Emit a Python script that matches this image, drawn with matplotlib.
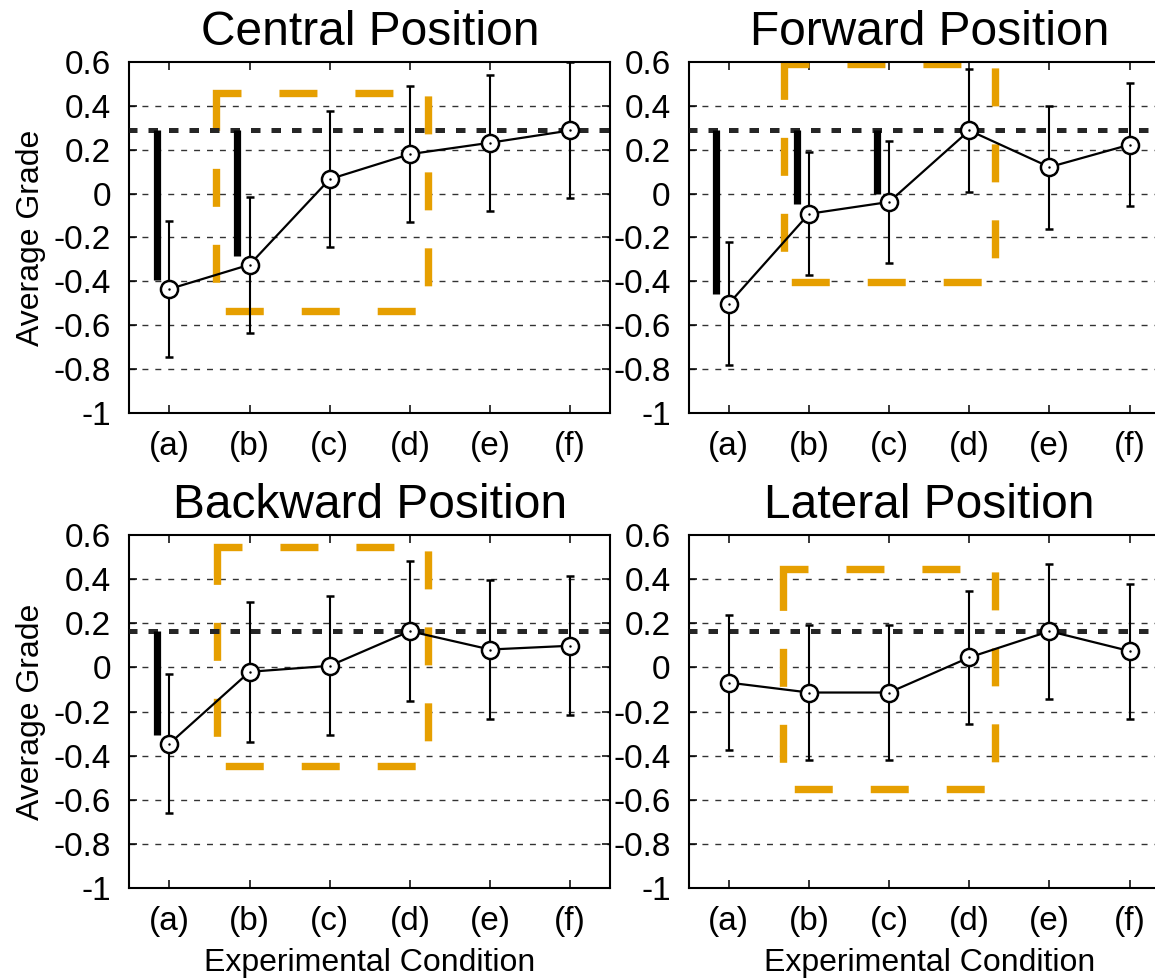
import matplotlib
matplotlib.use("Agg")
import matplotlib.pyplot as plt
import numpy as np

plt.rcParams["font.family"] = ["Liberation Sans", "DejaVu Sans"]

CONDITIONS = ["(a)", "(b)", "(c)", "(d)", "(e)", "(f)"]
YTICKS = [-1.0, -0.8, -0.6, -0.4, -0.2, 0.0, 0.2, 0.4, 0.6]
YTICK_LABELS = ["-1", "-0.8", "-0.6", "-0.4", "-0.2", "0", "0.2", "0.4", "0.6"]

# mean grade and half-width of the error bar per condition
CENTRAL_MEAN = [-0.435, -0.324, 0.066, 0.180, 0.232, 0.288]
CENTRAL_ERR = [0.308, 0.31, 0.31, 0.31, 0.31, 0.31]
FORWARD_MEAN = [-0.502, -0.092, -0.038, 0.288, 0.121, 0.223]
FORWARD_ERR = [0.28, 0.28, 0.28, 0.28, 0.28, 0.28]
BACKWARD_MEAN = [-0.346, -0.020, 0.007, 0.164, 0.081, 0.098]
BACKWARD_ERR = [0.315, 0.316, 0.315, 0.316, 0.316, 0.315]
LATERAL_MEAN = [-0.069, -0.114, -0.114, 0.045, 0.164, 0.074]
LATERAL_ERR = [0.305, 0.307, 0.307, 0.303, 0.306, 0.306]

# best-condition reference level
CENTRAL_REF = 0.288
FORWARD_REF = 0.288
BACKWARD_REF = 0.164
LATERAL_REF = 0.164

# thick bars: condition number, lower end (upper end is the reference)
CENTRAL_BAR_COND = [1, 2]
CENTRAL_BAR_LOW = [-0.394, -0.284]
FORWARD_BAR_COND = [1, 2, 3]
FORWARD_BAR_LOW = [-0.459, -0.049, 0.0]
BACKWARD_BAR_COND = [1]
BACKWARD_BAR_LOW = [-0.305]
LATERAL_BAR_COND = []
LATERAL_BAR_LOW = []

# highlighted region: x0, x1, y0, y1
CENTRAL_BOX = (1.585, 4.23, -0.536, 0.457)
FORWARD_BOX = (1.685, 4.32, -0.403, 0.592)
BACKWARD_BOX = (1.589, 4.23, -0.448, 0.547)
LATERAL_BOX = (1.68, 4.32, -0.55, 0.444)

ORANGE = "#E69F00"


def draw_panel(ax, title, mean, err, ref, bar_cond, bar_low, box):
    x = np.arange(1, len(CONDITIONS) + 1)
    ax.set_xlim(0.5, len(CONDITIONS) + 0.5)
    ax.set_ylim(-1, 0.6)

    for y in YTICKS[1:-1]:
        ax.axhline(y, color="#333333", lw=1.0, ls=(0, (4.3, 5.0)), zorder=1)

    # dashed box; path starts a little below the top-left corner
    x0, x1, y0, y1 = box
    ax.plot([x0, x0, x1, x1, x0, x0], [y1 - 0.059, y1, y1, y0, y0, y1 - 0.059],
            color=ORANGE, lw=5.3, ls=(0, (5.16, 5.16)),
            dash_capstyle="butt", dash_joinstyle="miter", zorder=2)

    ax.axhline(ref, color="#262626", lw=3.6, ls=(0.3, (1.9, 2.2)),
               dash_capstyle="butt", zorder=3)

    for c, low in zip(bar_cond, bar_low):
        ax.plot([c - 0.155, c - 0.155], [ref, low], color="black", lw=5.2,
                solid_capstyle="butt", zorder=4)

    ax.errorbar(x, mean, yerr=err, color="black", lw=1.6, capsize=3,
                capthick=1.5, elinewidth=1.5, marker="o", ms=12.3,
                mfc="white", mec="black", mew=1.8, zorder=5)
    ax.plot(x, mean, ls="none", marker=".", ms=1.5, color="black", zorder=7)

    ax.set_xticks(x)
    ax.set_xticklabels(CONDITIONS)
    ax.set_yticks(YTICKS)
    ax.set_yticklabels(YTICK_LABELS)
    ax.tick_params(direction="in", length=5.5, width=1.1, top=True, right=True)
    ax.tick_params(axis="x", labelsize=24, pad=13)
    ax.tick_params(axis="y", labelsize=24, pad=13)
    for s in ax.spines.values():
        s.set_linewidth(1.5)
    ax.set_title(title, fontsize=34.5, pad=12)


fig = plt.figure(figsize=(11.55, 9.8), dpi=100)
W, H = 1155, 980
left_cols = [129.3, 688.7]
tops = [62, 535]
bottoms = [413, 888]
panels = [
    ("Central Position", CENTRAL_MEAN, CENTRAL_ERR, CENTRAL_REF,
     CENTRAL_BAR_COND, CENTRAL_BAR_LOW, CENTRAL_BOX),
    ("Forward Position", FORWARD_MEAN, FORWARD_ERR, FORWARD_REF,
     FORWARD_BAR_COND, FORWARD_BAR_LOW, FORWARD_BOX),
    ("Backward Position", BACKWARD_MEAN, BACKWARD_ERR, BACKWARD_REF,
     BACKWARD_BAR_COND, BACKWARD_BAR_LOW, BACKWARD_BOX),
    ("Lateral Position", LATERAL_MEAN, LATERAL_ERR, LATERAL_REF,
     LATERAL_BAR_COND, LATERAL_BAR_LOW, LATERAL_BOX),
]

for k, p in enumerate(panels):
    row, col = divmod(k, 2)
    l = left_cols[col] / W
    b = (H - bottoms[row]) / H
    h = (bottoms[row] - tops[row]) / H
    ax = fig.add_axes([l, b, 481 / W, h])
    draw_panel(ax, *p)
    if col == 0:
        ax.set_ylabel("Average Grade", fontsize=23)
        ax.yaxis.set_label_coords(-0.173, 0.5)
    if row == 1:
        ax.set_xlabel("Experimental Condition", fontsize=23)
        ax.xaxis.set_label_coords(0.5, -0.17)

fig.savefig("out.png", dpi=100)
